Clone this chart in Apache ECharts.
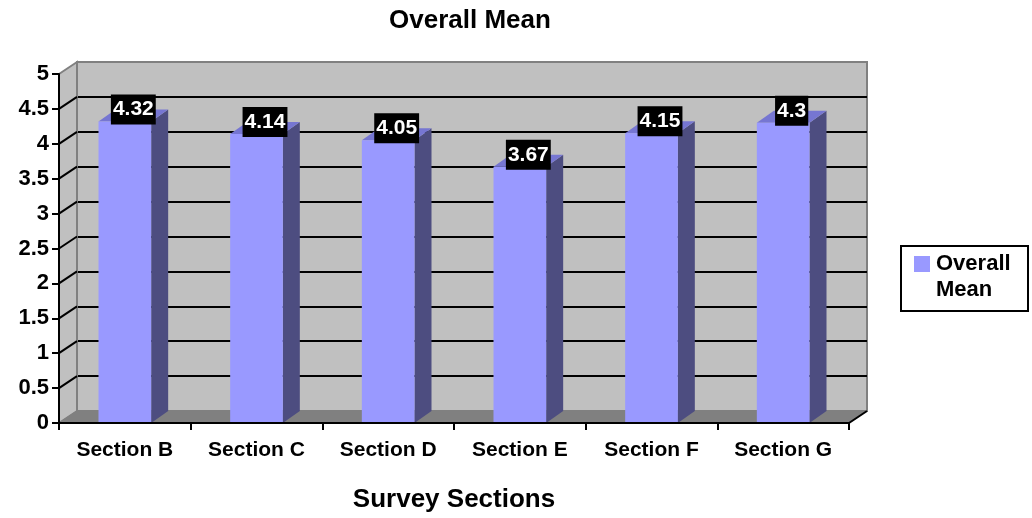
<!DOCTYPE html>
<html>
<head>
<meta charset="utf-8">
<title>Overall Mean</title>
<script src="https://cdn.jsdelivr.net/npm/echarts@6/dist/echarts.min.js"></script>
<style>
  html, body { margin: 0; padding: 0; background: #ffffff; }
  #chart { width: 1032px; height: 518px; }
</style>
</head>
<body>
<div id="chart"></div>
<script>
// ---- data ----
const categories = ['Section B', 'Section C', 'Section D', 'Section E', 'Section F', 'Section G'];
const overallMean = [4.32, 4.14, 4.05, 3.67, 4.15, 4.3];
const seriesName = 'Overall Mean';
const chartTitle = 'Overall Mean';
const xAxisTitle = 'Survey Sections';
const legendLines = ['Overall', 'Mean'];
const yMin = 0;
const yMax = 5;
const yStep = 0.5;

// ---- style / layout ----
const FONT = '"Liberation Sans", Arial, sans-serif';
const WALL = '#c0c0c0';
const EDGE = '#808080';
const FLOOR = '#808080';
const FRONT = '#9999ff';
const SIDE = '#4d4d80';
const TOP = '#7676d2';
const DEPTH_X = 18;   // shift from the front plane to the back wall
const DEPTH_Y = -12;
const BAR_DX = 17;    // depth of each column
const BAR_DY = -12;

const FRONT_GRID = { left: 59, right: 183, top: 74, bottom: 95 };
const BACK_GRID = {
  left: FRONT_GRID.left + DEPTH_X,
  right: FRONT_GRID.right - DEPTH_X,
  top: FRONT_GRID.top + DEPTH_Y,
  bottom: FRONT_GRID.bottom - DEPTH_Y
};

const tickCount = Math.round((yMax - yMin) / yStep) + 1;
// back-wall grid lines: gray at the floor and the top edge, black elsewhere
const backLineColors = [];
for (let i = 0; i < tickCount; i++) {
  backLineColors.push(i === 0 || i === tickCount - 1 ? EDGE : '#000000');
}

const chart = echarts.init(document.getElementById('chart'), null, { renderer: 'canvas' });

// floor and left side wall of the box, with the wall's slanted grid lines
function renderBox(params, api) {
  const cs = params.coordSys;
  const xL = cs.x, xR = cs.x + cs.width;
  const yT = cs.y, yB = cs.y + cs.height;
  const children = [];
  // left wall
  children.push({
    type: 'polygon',
    shape: { points: [[xL, yT], [xL + DEPTH_X, yT + DEPTH_Y], [xL + DEPTH_X, yB + DEPTH_Y], [xL, yB]] },
    style: { fill: WALL, stroke: EDGE, lineWidth: 2 }
  });
  for (let i = 1; i < tickCount - 1; i++) {
    const y = api.coord([0, yMin + i * yStep])[1];
    children.push({
      type: 'line',
      shape: { x1: xL, y1: y, x2: xL + DEPTH_X, y2: y + DEPTH_Y },
      style: { stroke: '#000000', lineWidth: 2 }
    });
  }
  // floor
  children.push({
    type: 'polygon',
    shape: { points: [[xL, yB], [xR, yB], [xR + DEPTH_X, yB + DEPTH_Y], [xL + DEPTH_X, yB + DEPTH_Y]] },
    style: { fill: FLOOR, stroke: EDGE, lineWidth: 1 }
  });
  // right front edge of the floor
  children.push({
    type: 'line',
    shape: { x1: xR, y1: yB, x2: xR + DEPTH_X, y2: yB + DEPTH_Y },
    style: { stroke: '#000000', lineWidth: 2 }
  });
  return { type: 'group', children: children };
}

// one 3D column: front face, side face, top face, and its value tag
function renderColumn(params, api) {
  const idx = api.value(0);
  const val = api.value(1);
  const top = api.coord([idx, val]);
  const base = api.coord([idx, 0]);
  const bw = api.size([1, 0])[0] * 0.4;
  const x0 = top[0] - bw / 2;
  const x1 = top[0] + bw / 2;
  const yt = top[1];
  const yb = base[1];
  return {
    type: 'group',
    children: [
      {
        type: 'polygon',
        shape: { points: [[x1, yt], [x1 + BAR_DX, yt + BAR_DY], [x1 + BAR_DX, yb + BAR_DY], [x1, yb]] },
        style: { fill: SIDE }
      },
      {
        type: 'polygon',
        shape: { points: [[x0, yt], [x0 + BAR_DX, yt + BAR_DY], [x1 + BAR_DX, yt + BAR_DY], [x1, yt]] },
        style: { fill: TOP }
      },
      {
        type: 'rect',
        shape: { x: x0, y: yt, width: bw, height: yb - yt },
        style: { fill: FRONT }
      },
      {
        type: 'text',
        z2: 10,
        style: {
          text: String(val),
          x: top[0] + BAR_DX / 2,
          y: yt + BAR_DY,
          align: 'center',
          verticalAlign: 'middle',
          fill: '#ffffff',
          backgroundColor: '#000000',
          padding: [5, 2, 4, 2],
          font: 'bold 21px ' + FONT
        }
      }
    ]
  };
}

const legendX = 900, legendY = 245;

const option = {
  animation: false,
  backgroundColor: '#ffffff',
  title: {
    text: chartTitle,
    left: 465,
    top: 3,
    textAlign: 'center',
    textStyle: { fontFamily: FONT, fontWeight: 'bold', fontSize: 26, color: '#000000' }
  },
  grid: [
    Object.assign({ show: false, containLabel: false, outerBoundsMode: 'none' }, FRONT_GRID),
    Object.assign({ show: true, containLabel: false, outerBoundsMode: 'none',
      backgroundColor: WALL, borderColor: EDGE, borderWidth: 2 }, BACK_GRID)
  ],
  xAxis: [
    {
      type: 'category',
      gridIndex: 0,
      data: categories,
      boundaryGap: true,
      name: xAxisTitle,
      nameLocation: 'middle',
      nameGap: 64,
      nameTextStyle: { fontFamily: FONT, fontWeight: 'bold', fontSize: 26, color: '#000000' },
      axisLine: { show: true, lineStyle: { color: '#000000', width: 2 } },
      axisTick: { show: true, interval: 0, length: 7, lineStyle: { color: '#000000', width: 2 } },
      axisLabel: { interval: 0, margin: 17, fontFamily: FONT, fontWeight: 'bold', fontSize: 21, color: '#000000' },
      splitLine: { show: false },
      z: 5
    },
    {
      type: 'category',
      gridIndex: 1,
      data: categories,
      show: false
    }
  ],
  yAxis: [
    {
      type: 'value',
      gridIndex: 0,
      min: yMin,
      max: yMax,
      interval: yStep,
      axisLine: { show: true, lineStyle: { color: '#000000', width: 2 } },
      axisTick: { show: true, length: 7, lineStyle: { color: '#000000', width: 2 } },
      axisLabel: { margin: 10, fontFamily: FONT, fontWeight: 'bold', fontSize: 22, color: '#000000' },
      splitLine: { show: false },
      z: 5
    },
    {
      type: 'value',
      gridIndex: 1,
      min: yMin,
      max: yMax,
      interval: yStep,
      axisLine: { show: false },
      axisTick: { show: false },
      axisLabel: { show: false },
      splitLine: { show: true, lineStyle: { color: backLineColors, width: 2 } }
    }
  ],
  series: [
    {
      type: 'custom',
      name: 'box',
      xAxisIndex: 0,
      yAxisIndex: 0,
      silent: true,
      z: 1,
      renderItem: renderBox,
      data: [[0, 0]]
    },
    {
      type: 'custom',
      name: seriesName,
      xAxisIndex: 0,
      yAxisIndex: 0,
      z: 3,
      renderItem: renderColumn,
      encode: { x: 0, y: 1 },
      data: overallMean.map((v, i) => [i, v])
    }
  ],
  graphic: [
    {
      type: 'group',
      left: legendX,
      top: legendY,
      children: [
        {
          type: 'rect',
          shape: { x: 0, y: 0, width: 127, height: 65 },
          style: { fill: '#ffffff', stroke: '#000000', lineWidth: 2 }
        },
        {
          type: 'rect',
          shape: { x: 13, y: 10, width: 16, height: 16 },
          style: { fill: FRONT }
        },
        {
          type: 'text',
          style: {
            text: legendLines.join('\n'),
            x: 35,
            y: 5,
            lineHeight: 26,
            fill: '#000000',
            font: 'bold 22px ' + FONT
          }
        }
      ]
    }
  ]
};

chart.setOption(option);
</script>
</body>
</html>
